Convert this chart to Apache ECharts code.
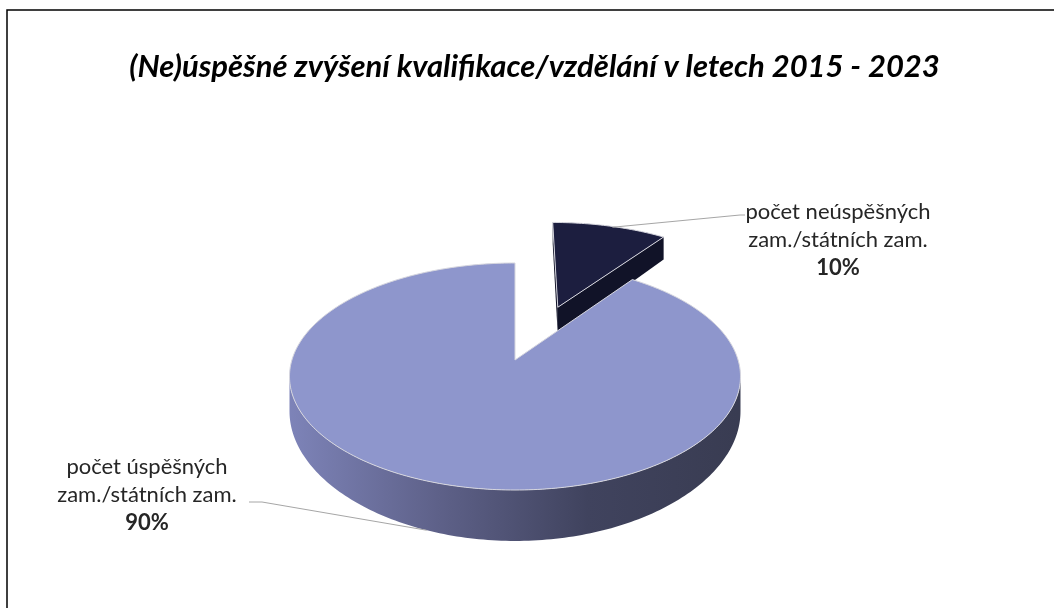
<!DOCTYPE html>
<html><head><meta charset="utf-8">
<script src="https://cdn.jsdelivr.net/npm/echarts@6/dist/echarts.min.js"></script>
<style>html,body{margin:0;padding:0;background:#fff}#c{width:1054px;height:608px}</style>
</head><body><div id="c"></div>
<script>
// ---- data ----
const categories = ['počet neúspěšných zam./státních zam.', 'počet úspěšných zam./státních zam.'];
const labelLines = [['počet neúspěšných', 'zam./státních zam.'], ['počet úspěšných', 'zam./státních zam.']];
const values = [10, 90];
const titleText = '(Ne)úspěšné zvýšení kvalifikace/vzdělání v letech 2015 - 2023';

// ---- styles / layout ----
const topColors = ['#1C1E3F', '#8E96CC'];
const cutColors = ['#111328', '#3A3D55'];
const wallColors = [
  ['#1A1C38', '#0E1022'],
  ['#7E84B9', '#5E6189', '#40435E', '#393C52']
];
const explode = [{d: 0.55, shift: 4}, {d: 0, shift: 0}];
const labelPos = [{x: 838, y: 198}, {x: 147, y: 453}];
const leader = [ // angle offset from slice mid (deg), radius, on bottom rim, polyline to label
  {off: 1, r: 0.99, bottom: false, pts: [[740, 215], [745, 215]]},
  {off: 2, r: 1.0, bottom: true, pts: [[262, 502], [249, 502]]}
];
const G = {x0: 515, y0: 360, A: 223.1, B: 111.1, k: 0.1454, d0: 33, kd: 0.352};

const total = values.reduce((a, b) => a + b, 0);
const cum = [];
values.reduce((a, v, i) => { cum[i] = a; return a + v; }, 0);

function proj(u, v, bottom) {
  const w = 1 + G.k * v;
  let x = G.x0 + G.A * u / w, y = G.y0 - G.B * v / w;
  if (bottom) y += G.d0 / (1 + G.kd * v);
  return [x, y];
}
const visStart = Math.acos(-G.k), visEnd = 2 * Math.PI - Math.acos(-G.k);
const RAD = Math.PI / 180;

function renderItem(params, api) {
  const i = params.dataIndex;
  const val = api.value(0);
  const s = cum[i] / total * 2 * Math.PI;
  const e = (cum[i] + val) / total * 2 * Math.PI;
  const mid = (s + e) / 2;
  const ea = mid + explode[i].shift * RAD;
  const ou = explode[i].d * Math.sin(ea), ov = explode[i].d * Math.cos(ea);
  const P = (th, r, b) => proj(ou + r * Math.sin(th), ov + r * Math.cos(th), b);
  const arc = (a0, a1, b) => {
    const n = Math.max(4, Math.ceil(Math.abs(a1 - a0) / RAD));
    const pts = [];
    for (let j = 0; j <= n; j++) pts.push(P(a0 + (a1 - a0) * j / n, 1, b));
    return pts;
  };
  const children = [];
  // cut faces
  [[s, s - Math.PI / 2], [e, e + Math.PI / 2]].forEach(([th, nrm]) => {
    if (Math.cos(nrm) < 0.05) {
      children.push({type: 'polygon', shape: {points: [P(0, 0, false), P(th, 1, false), P(th, 1, true), P(0, 0, true)]},
        style: {fill: cutColors[i], stroke: null}});
    }
  });
  // outer wall
  const w0 = Math.max(s, visStart), w1 = Math.min(e, visEnd);
  if (w1 > w0) {
    const wc = wallColors[i];
    children.push({type: 'polygon', shape: {points: arc(w0, w1, false).concat(arc(w1, w0, true))},
      style: {fill: {type: 'linear', x: 287, y: 0, x2: 738, y2: 0, global: true,
        colorStops: wc.map((c, j) => ({offset: j / (wc.length - 1), color: c}))}, stroke: null}});
  }
  // top face
  children.push({type: 'polygon', shape: {points: [P(0, 0, false)].concat(arc(s, e, false))},
    style: {fill: topColors[i], stroke: '#D6D6DE', lineWidth: 1}});
  // leader line
  const L = leader[i];
  const a = P(mid + L.off * RAD, L.r, L.bottom);
  children.push({type: 'polyline', shape: {points: [a].concat(L.pts)},
    style: {stroke: '#A6A6A6', lineWidth: 1, fill: null}});
  // label
  const pct = Math.round(val / total * 100) + '%';
  children.push({type: 'text', style: {
    x: labelPos[i].x, y: labelPos[i].y,
    text: labelLines[i].map(t => '{n|' + t + '}').join('\n') + '\n{b|' + pct + '}',
    align: 'center', verticalAlign: 'top',
    rich: {
      n: {fontFamily: 'Lato', fontSize: 22, lineHeight: 28, fill: '#262626'},
      b: {fontFamily: 'Lato', fontSize: 22, lineHeight: 28, fontWeight: 'bold', fill: '#262626'}
    }
  }});
  return {type: 'group', children};
}

const chart = echarts.init(document.getElementById('c'), null, {renderer: 'canvas'});
chart.setOption({
  animation: false,
  backgroundColor: '#fff',
  graphic: [
    {type: 'rect', shape: {x: 7, y: 10, width: 1100, height: 700},
      style: {fill: 'none', stroke: '#000', lineWidth: 1.5}, silent: true},
    {type: 'text', x: 534.5, y: 67, silent: true,
      style: {text: titleText, align: 'center', verticalAlign: 'middle', fill: '#000',
        fontFamily: 'Lato', fontSize: 31, fontWeight: 'bold', fontStyle: 'italic'}}
  ],
  series: [{type: 'custom', coordinateSystem: 'none', renderItem,
    data: values.map((v, i) => ({name: categories[i], value: v}))}]
});
</script></body></html>
